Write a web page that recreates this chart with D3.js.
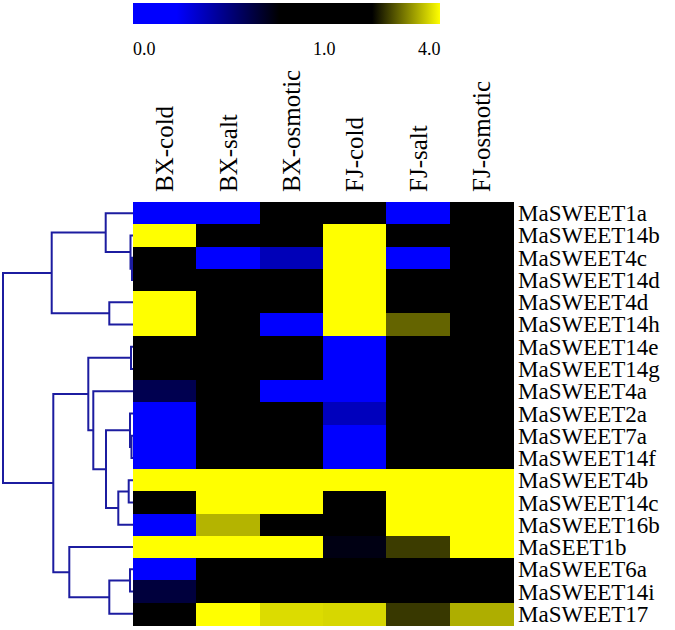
<!DOCTYPE html>
<html>
<head>
<meta charset="utf-8">
<script src="https://cdn.jsdelivr.net/npm/d3@7"></script>
<style>
  html, body { margin: 0; padding: 0; background: #fff; }
  svg { display: block; }
  text { font-family: "Liberation Serif", "Times New Roman", serif; fill: #000; }
</style>
</head>
<body>
<svg id="chart" width="675" height="630"></svg>
<script>
// ---------------- data ----------------
const genes = ["MaSWEET1a","MaSWEET14b","MaSWEET4c","MaSWEET14d","MaSWEET4d","MaSWEET14h",
  "MaSWEET14e","MaSWEET14g","MaSWEET4a","MaSWEET2a","MaSWEET7a","MaSWEET14f",
  "MaSWEET4b","MaSWEET14c","MaSWEET16b","MaSEET1b","MaSWEET6a","MaSWEET14i","MaSWEET17"];
const conditions = ["BX-cold","BX-salt","BX-osmotic","FJ-cold","FJ-salt","FJ-osmotic"];

// relative expression per condition (row order as genes)
const bxCold    = [0.1, 4.2, 1, 1, 4.2, 4.2, 1, 1, 0.6, 0.1, 0.1, 0.1, 4.2, 1, 0.1, 4.2, 0.1, 0.64, 1];
const bxSalt    = [0.1, 1, 0.1, 1, 1, 1, 1, 1, 1, 1, 1, 1, 4.2, 4.2, 3.49, 4.2, 1, 1, 4.2];
const bxOsmotic = [1, 1, 0.38, 1, 1, 0.1, 1, 1, 0.1, 1, 1, 1, 4.2, 4.2, 1, 4.2, 1, 1, 3.76];
const fjCold    = [1, 4.2, 4.2, 4.2, 4.2, 4.2, 0.1, 0.1, 0.1, 0.37, 0.1, 0.1, 4.2, 1, 1, 0.73, 1, 1, 3.73];
const fjSalt    = [0.1, 1, 0.1, 1, 1, 2.94, 1, 1, 1, 1, 1, 1, 4.2, 4.2, 4.2, 2.67, 1, 1, 2.64];
const fjOsmotic = [1, 1, 1, 1, 1, 1, 1, 1, 1, 1, 1, 1, 4.2, 4.2, 4.1, 4.2, 1, 1, 3.45];
const columns = [bxCold, bxSalt, bxOsmotic, fjCold, fjSalt, fjOsmotic];

// legend
const legendTicks = [0, 1, 4];
const legendTickLabels = ["0.0", "1.0", "4.0"];

// hierarchical clustering (hclust style: negative = leaf, positive = merge step)
const mergeLeft   = [-3, -2, -1, -5, 3, -7, -11, -10, -13, 9, 8, -9, 6, -17, 14, -16, 13, 5];
const mergeRight  = [-4, 1, 2, -6, 4, -8, -12, 7, -14, -15, 10, 11, 12, -18, -19, 15, 16, 17];
const mergeHeight = [1, 2.5, 27.3, 23.7, 81.3, 2, 1.5, 3, 4.3, 14.7, 27, 39.7, 44.7, 3, 23.7, 63.7, 79.7, 130];

// ---------------- drawing ----------------
const svg = d3.select("#chart");

const x = d3.scaleBand().domain(conditions).range([133, 513]);
const y = d3.scaleBand().domain(genes).range([202, 625]);

const color = d3.scaleLinear()
  .domain([0, 0.23, 0.77, 1, 2.26, 4])
  .range(["#0000ff", "#0000ff", "#000000", "#000000", "#000000", "#ffff00"])
  .clamp(true);

// cells
const cells = [];
conditions.forEach((c, ci) => genes.forEach((g, gi) => cells.push({c, g, v: columns[ci][gi]})));
svg.append("g").attr("shape-rendering", "crispEdges").selectAll("rect").data(cells).join("rect")
  .attr("x", d => x(d.c))
  .attr("y", d => y(d.g))
  .attr("width", x.bandwidth() + 1)
  .attr("height", y.bandwidth() + 1)
  .attr("fill", d => color(d.v));

// row labels
svg.append("g").selectAll("text").data(genes).join("text")
  .attr("x", 518)
  .attr("y", d => y(d) + y.bandwidth() / 2)
  .attr("dy", "0.35em")
  .attr("font-size", 23)
  .text(d => d);

// column labels
svg.append("g").selectAll("text").data(conditions).join("text")
  .attr("transform", d => `translate(${x(d) + x.bandwidth() / 2},192) rotate(-90)`)
  .attr("dy", "0.35em")
  .attr("font-size", 25)
  .text(d => d);

// dendrogram
const dx = d3.scaleLinear().domain([0, 130]).range([133, 3]);
const nodeY = [], nodeH = [];
function ref(k) {
  if (k < 0) { const g = genes[-k - 1]; return {y: y(g) + y.bandwidth() / 2, h: 0}; }
  return {y: nodeY[k - 1], h: nodeH[k - 1]};
}
const dg = svg.append("g").attr("fill", "none").attr("stroke", "#1c1ca0").attr("stroke-width", 2);
mergeHeight.forEach((h, i) => {
  const a = ref(mergeLeft[i]), b = ref(mergeRight[i]);
  nodeY.push((a.y + b.y) / 2); nodeH.push(h);
  const path = d3.path();
  path.moveTo(dx(a.h), a.y); path.lineTo(dx(h), a.y); path.lineTo(dx(h), b.y); path.lineTo(dx(b.h), b.y);
  dg.append("path").attr("d", path.toString());
});

// legend
const lx = d3.scaleLinear().domain(legendTicks).range([133, 323, 440]);
const defs = svg.append("defs");
const grad = defs.append("linearGradient").attr("id", "lg").attr("x1", "0%").attr("x2", "100%");
const gStops = [0, 0.23, 0.77, 1, 2.26, 4];
gStops.forEach(v => grad.append("stop")
  .attr("offset", ((lx(v) - 133) / (440 - 133) * 100) + "%")
  .attr("stop-color", color(v)));
svg.append("rect").attr("x", 133).attr("y", 3).attr("width", 440 - 133).attr("height", 21)
  .attr("fill", "url(#lg)");
svg.append("g").selectAll("text").data(legendTicks).join("text")
  .attr("x", (d, i) => i === 0 ? lx(d) : (i === 1 ? lx(d) - 10 : lx(d) - 22))
  .attr("y", 55)
  .attr("font-size", 18)
  .text((d, i) => legendTickLabels[i]);
</script>
</body>
</html>
